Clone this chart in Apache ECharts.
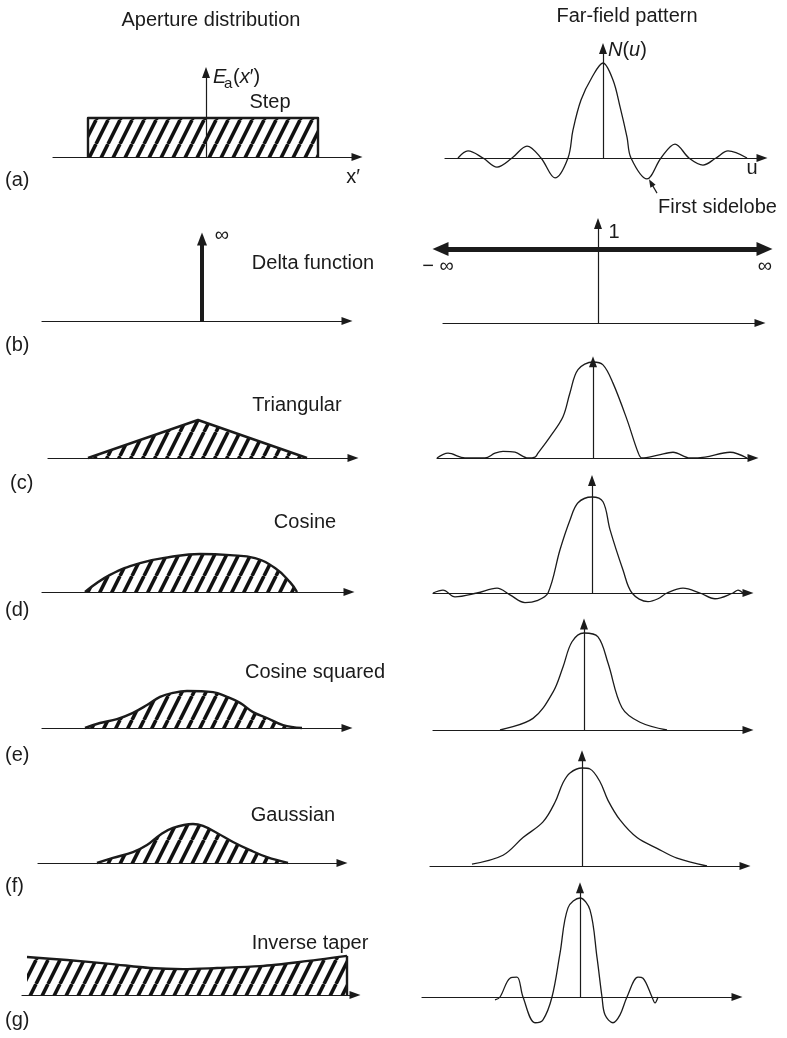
<!DOCTYPE html>
<html><head><meta charset="utf-8">
<script src="https://cdn.jsdelivr.net/npm/echarts@6/dist/echarts.min.js"></script>
<style>html,body{margin:0;padding:0;background:#fff}#c{width:787px;height:1038px}</style>
</head><body><div id="c"></div><script>
// ---------------- DATA (normalized units) ----------------
const panelLabels = ['(a)','(b)','(c)','(d)','(e)','(f)','(g)'];
const apertureNames = ['Step','Delta function','Triangular','Cosine','Cosine squared','Gaussian','Inverse taper'];
const columnTitles = ['Aperture distribution','Far-field pattern'];

const stepAperture = [[-11.8,0],[-11.8,1],[11.2,1],[11.2,0]];
const stepPattern = [[-14.5,0],[-13.5,0.074],[-12.0,0],[-10.6,-0.095],[-9.1,0],[-7.6,0.126],[-6.2,0],[-4.8,-0.21],[-3.5,0],[-3.0,0.295],[-2.2,0.61],[-1.1,0.85],[0,1],[1.0,0.82],[1.7,0.54],[2.4,0.22],[2.8,0],[4.4,-0.22],[5.8,0],[7.2,0.147],[8.6,0],[10.0,-0.074],[11.3,0],[12.5,0.074],[14.4,0]];
const sidelobePointer = [[5.4,-0.37],[4.8,-0.26]];

const deltaAperture = [[0,0],[0,1]];
const deltaPattern = [[-16.5,1],[17.4,1]];

const triAperture = [[-11,0],[0,1],[10.9,0]];
const triPattern = [[-15.6,0],[-14.5,0.05],[-12.8,0],[-10.8,0],[-9.8,0.05],[-9,0.07],[-7.8,0.06],[-6.5,0],[-5.8,0.01],[-5.5,0.05],[-4.3,0.22],[-3,0.43],[-2.3,0.68],[-1.5,0.92],[0,1],[1,0.97],[2,0.78],[3.4,0.4],[4.5,0.06],[4.9,0],[6.5,0.03],[8,0.06],[9.7,0],[11.2,0.01],[13.7,0.06],[15.4,0]];

const cosAperture = [[-10.5,0],[-8,0.45],[-5,0.76],[-2,0.92],[1,1],[4,0.97],[6.5,0.89],[8.5,0.63],[10,0.26],[10.7,0]];
const cosPattern = [[-15.9,0],[-14.9,0.03],[-13.7,-0.04],[-11.5,0],[-9.5,0.05],[-8.2,-0.02],[-6.7,-0.1],[-5.5,-0.08],[-4.4,0],[-3.2,0.45],[-2.2,0.76],[-1.4,0.94],[0,1],[1.1,0.95],[1.8,0.66],[3.1,0.24],[4,0],[5.6,-0.09],[6.6,-0.06],[7.5,0],[9.1,0.05],[10.8,0],[12.3,-0.06],[14.1,0],[14.6,0.03],[15.1,0]];

const cos2Aperture = [[-10.5,0],[-9,0.135],[-7.3,0.24],[-5.7,0.41],[-4.3,0.62],[-3,0.84],[-1.7,0.95],[-0.3,1],[2.3,0.97],[3.7,0.84],[5,0.68],[6.3,0.43],[7.7,0.27],[9.3,0.08],[11.2,0]];
const cos2Pattern = [[-8.4,0],[-5.1,0.12],[-3.1,0.39],[-2.1,0.65],[-1.2,0.91],[0,1],[1.4,0.96],[2.4,0.69],[3.8,0.23],[5.6,0.08],[8.3,0]];

const gaussAperture = [[-9.6,0],[-8,0.13],[-6,0.28],[-4.6,0.46],[-3.3,0.72],[-2,0.9],[0,1],[1,0.95],[2.4,0.77],[4,0.54],[5.7,0.33],[7.4,0.15],[9.5,0]];
const gaussPattern = [[-11,0.02],[-7.9,0.11],[-5.9,0.29],[-3.9,0.45],[-2.7,0.65],[-1.9,0.85],[-1.2,0.95],[0,1],[0.8,0.99],[1.8,0.86],[2.6,0.67],[3.8,0.47],[5.5,0.29],[7.5,0.18],[9.5,0.08],[12.5,0]];

const invAperture = [[-16,1.0],[-12,0.92],[-7.7,0.82],[-3.7,0.71],[-0.4,0.68],[3,0.71],[7.3,0.76],[11.3,0.87],[16,1.03]];
const invEdge = [[16,0],[16,1.03]];
const invPattern = [[-8.5,-0.03],[-8,0],[-7,0.19],[-6.3,0.2],[-5.7,0],[-4.5,-0.26],[-3.7,-0.23],[-2.8,0],[-2,0.44],[-1.2,0.9],[0,1],[1,0.88],[1.7,0.4],[2.2,0],[2.5,-0.18],[3.3,-0.26],[4,-0.18],[4.7,0],[5.8,0.2],[6.3,0.19],[7.2,0],[7.5,-0.06],[7.8,0]];

// heights of the vertical axis arrows (data units)
const arrowTops = {aL:2.31, aR:1.21, bR:1.42, cR:1.06, dR:1.23, eR:1.15, fR:1.18, gR:1.16};

// ---------------- LAYOUT ----------------
const INK = '#1b1b1b';
const FONT = '"Liberation Sans", Arial, Helvetica, sans-serif';
const SX = 10; // px per x unit
const L = {
  aL:{cx:206, ay:157, sy:39, xmin:-15.3, xmax:15.1, ymin:-0.1, ymax:2.4},
  bL:{cx:202, ay:321, sy:88, xmin:-16, xmax:14.5, ymin:-0.1, ymax:1.1},
  cL:{cx:198, ay:458, sy:38, xmin:-15, xmax:15.5, ymin:-0.1, ymax:1.1},
  dL:{cx:190, ay:592, sy:38, xmin:-14.8, xmax:15.9, ymin:-0.1, ymax:1.1},
  eL:{cx:190, ay:728, sy:37, xmin:-14.8, xmax:15.7, ymin:-0.1, ymax:1.1},
  fL:{cx:193, ay:863, sy:39, xmin:-15.5, xmax:14.9, ymin:-0.1, ymax:1.1},
  gL:{cx:187, ay:995, sy:38, xmin:-16.5, xmax:16.8, ymin:-0.1, ymax:1.1},
  aR:{cx:603, ay:158, sy:95, xmin:-15.8, xmax:15.9, ymin:-0.45, ymax:1.25},
  bR:{cx:598, ay:323, sy:74, xmin:-15.5, xmax:16.2, ymin:-0.1, ymax:1.5},
  bR2:{cx:598, ay:323, sy:74, xmin:-17.5, xmax:18.5, ymin:-0.1, ymax:1.5, hideAxis:true},
  cR:{cx:593, ay:458, sy:96, xmin:-15.6, xmax:16.0, ymin:-0.1, ymax:1.1},
  dR:{cx:592, ay:593, sy:96, xmin:-15.9, xmax:15.6, ymin:-0.15, ymax:1.25},
  eR:{cx:584, ay:730, sy:97, xmin:-15.1, xmax:16.4, ymin:-0.1, ymax:1.2},
  fR:{cx:582, ay:866, sy:98, xmin:-15.2, xmax:16.3, ymin:-0.1, ymax:1.2},
  gR:{cx:580, ay:997, sy:99, xmin:-15.8, xmax:15.7, ymin:-0.3, ymax:1.2}
};

// hatch pattern
const hatch = document.createElement('canvas');
hatch.width = 12; hatch.height = 24;
(function(){
  const g = hatch.getContext('2d');
  g.strokeStyle = '#111'; g.lineWidth = 3.6;
  for (let k=-1;k<=1;k++){ g.beginPath(); g.moveTo(k*12,24); g.lineTo(k*12+12,0); g.stroke(); }
})();

const option = {backgroundColor:'#fff', animation:false, grid:[], xAxis:[], yAxis:[], series:[], graphic:[]};

function addPanel(key, seriesList){
  const p = L[key]; const i = option.grid.length;
  option.grid.push({left:p.cx + p.xmin*SX, top:p.ay - p.ymax*p.sy, width:(p.xmax-p.xmin)*SX, height:(p.ymax-p.ymin)*p.sy, containLabel:false, outerBoundsMode:'none'});
  option.xAxis.push({type:'value', gridIndex:i, min:p.xmin, max:p.xmax,
    axisLine:{show:!p.hideAxis, onZero:true, symbol:['none','triangle'], symbolSize:[8,11], lineStyle:{color:INK, width:1.2}},
    axisTick:{show:false}, axisLabel:{show:false}, splitLine:{show:false}});
  option.yAxis.push({type:'value', gridIndex:i, min:p.ymin, max:p.ymax, show:false});
  seriesList.forEach(s => option.series.push(Object.assign({xAxisIndex:i, yAxisIndex:i, silent:true, animation:false, clip:false, symbol:'none', showSymbol:false}, s)));
}
function arrowLine(from, to, width, size, bothEnds){
  return {silent:true, animation:false, symbol:[bothEnds?'triangle':'none','triangle'], symbolSize:size,
    label:{show:false}, emphasis:{disabled:true}, lineStyle:{color:INK, width:width, type:'solid', opacity:1},
    data:[[{coord:from},{coord:to}]]};
}
function vArrow(key){
  const p = L[key]; const top = arrowTops[key] - 5.5/p.sy;
  return arrowLine([0,0],[0,top],1.2,[8,11]);
}
function curve(data, extra){
  return Object.assign({type:'line', data:data, smooth:0.35, lineStyle:{color:INK, width:1.3}}, extra||{});
}
function aperture(data, smooth, extra){
  return Object.assign({type:'line', data:data, smooth:smooth, lineStyle:{color:INK, width:2.4, join:'round'},
    areaStyle:{color:{image:hatch, repeat:'repeat'}, opacity:1}}, extra||{});
}

// left column
addPanel('aL', [aperture(stepAperture, false, {markLine: vArrow('aL')})]);
addPanel('bL', [{type:'line', data:deltaAperture, lineStyle:{opacity:0}, markLine: arrowLine(deltaAperture[0], [0, deltaAperture[1][1]-6/88], 4, [10,13])}]);
addPanel('cL', [aperture(triAperture, false)]);
addPanel('dL', [aperture(cosAperture, 0.45)]);
addPanel('eL', [aperture(cos2Aperture, 0.4)]);
addPanel('fL', [aperture(gaussAperture, 0.4)]);
addPanel('gL', [aperture(invAperture, 0.3), {type:'line', data:invEdge, lineStyle:{color:INK, width:2.4}}]);

// right column
addPanel('aR', [curve(stepPattern, {markLine: vArrow('aR')}),
  {type:'line', data:sidelobePointer, lineStyle:{opacity:0}, markLine: arrowLine(sidelobePointer[0], sidelobePointer[1], 1.2, [6,8])}]);
addPanel('bR', [{type:'line', data:[[0,0]], markLine: vArrow('bR')}]);
addPanel('bR2', [{type:'line', data:deltaPattern, lineStyle:{opacity:0}, markLine: arrowLine([deltaPattern[0][0]+0.75, deltaPattern[0][1]],[deltaPattern[1][0]-0.75, deltaPattern[1][1]], 5, [14,16], true)}]);
addPanel('cR', [curve(triPattern, {markLine: vArrow('cR')})]);
addPanel('dR', [curve(cosPattern, {markLine: vArrow('dR')})]);
addPanel('eR', [curve(cos2Pattern, {markLine: vArrow('eR')})]);
addPanel('fR', [curve(gaussPattern, {markLine: vArrow('fR')})]);
addPanel('gR', [curve(invPattern, {markLine: vArrow('gR')})]);

// texts
const IT = {fontStyle:'italic', fontSize:20, fontFamily:FONT, fill:INK};
function txt(text, x, y, st){
  return {type:'text', x:x, y:y, silent:true, z:100,
    style:Object.assign({text:text, fontSize:20, fontFamily:FONT, fill:INK, align:'center', verticalAlign:'middle', textAlign:'center', textVerticalAlign:'middle', rich:{i:IT}}, st||{})};
}
const LEFT = {align:'left', textAlign:'left'};
const g = option.graphic;
g.push(txt(columnTitles[0], 211, 20));
g.push(txt(columnTitles[1], 627, 16));
const labelPos = [[5,180],[5,345],[10,483],[5,610],[5,755],[5,886],[5,1020]];
panelLabels.forEach((t,k)=>g.push(txt(t, labelPos[k][0], labelPos[k][1], LEFT)));
const namePos = [[270,102],[313,263],[297,405],[305,522],[315,672],[293,815],[310,943]];
apertureNames.forEach((t,k)=>g.push(txt(t, namePos[k][0], namePos[k][1])));
g.push(txt('E', 213, 77, Object.assign({}, LEFT, {fontStyle:'italic'})));
g.push(txt('a', 224, 84, Object.assign({}, LEFT, {fontSize:15})));
g.push(txt('({i|x}′)', 233, 77, LEFT));
g.push(txt('x′', 353, 177));
g.push(txt('{i|N}({i|u})', 608, 50, LEFT));
g.push(txt('u', 752, 168));
g.push(txt('First sidelobe', 658, 207, LEFT));
g.push(txt('∞', 222, 235));
g.push(txt('1', 614, 232));
g.push(txt('− ∞', 438, 266));
g.push(txt('∞', 765, 266));

const chart = echarts.init(document.getElementById('c'), null, {renderer:'canvas'});
chart.setOption(option);
</script></body></html>
